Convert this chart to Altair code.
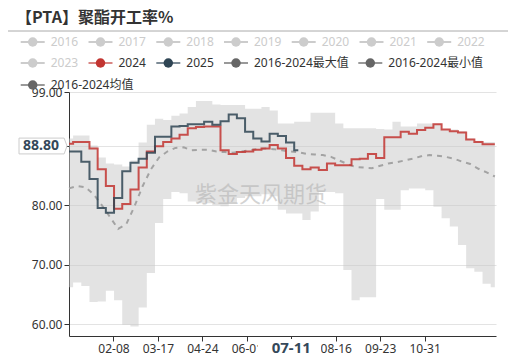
import altair as alt
import pandas as pd

# ---------------- data ----------------
week_dates = pd.date_range("2024-01-01", periods=53, freq="7D").strftime("%Y-%m-%d").tolist()

v2024 = [90.3, 90.6, 90.6, 89.5, 86.0, 83.2, 79.4, 80.2, 82.6, 86.3,
         89.0, 89.9, 90.6, 91.2, 91.8, 92.9, 93.1, 93.2, 93.2, 89.2,
         88.6, 88.9, 89.0, 89.3, 89.5, 90.1, 89.5, 87.9, 86.6, 86.0,
         86.3, 85.9, 87.0, 86.7, 86.7, 87.7, 87.8, 88.6, 87.9, 91.4,
         91.4, 92.3, 92.0, 92.6, 93.0, 93.6, 92.7, 92.4, 92.2, 91.0,
         90.6, 90.2, 90.2]

v2025 = [89.0, 89.0, 87.3, 84.4, 79.5, 78.7, 81.2, 85.7, 87.1, 87.8,
         88.8, 91.5, 91.5, 93.2, 93.3, 93.6, 93.6, 94.0, 93.5, 94.1,
         95.2, 94.6, 92.3, 91.2, 90.7, 92.0, 91.6, 90.5, 89.2]

vmax = [91.2, 91.7, 91.7, 90.0, 88.0, 87.0, 86.8, 86.5, 87.5, 90.5,
        93.5, 94.5, 94.3, 95.0, 95.4, 96.5, 97.5, 97.5, 96.9, 96.8,
        96.8, 96.8, 96.2, 96.2, 96.5, 95.9, 93.7, 93.7, 94.0, 94.0,
        95.5, 95.5, 95.5, 93.7, 92.9, 92.9, 92.9, 92.9, 92.8, 92.7,
        94.0, 93.2, 93.2, 93.7, 93.7, 93.7, 92.7, 92.7, 92.4, 91.2,
        90.8, 90.6, 90.6]

vmin = [66.2, 67.0, 66.4, 63.7, 63.8, 65.6, 64.0, 59.9, 59.6, 62.8,
        68.6, 77.0, 81.0, 82.2, 82.0, 80.6, 80.3, 80.3, 80.0, 79.8,
        80.3, 81.2, 81.5, 81.5, 81.8, 81.5, 79.2, 78.6, 78.6, 77.5,
        78.9, 82.2, 82.2, 82.0, 69.1, 64.0, 64.5, 64.5, 81.0, 79.2,
        79.2, 82.5, 82.8, 82.8, 82.5, 79.7, 77.8, 76.4, 73.3, 69.4,
        68.8, 66.8, 66.2]

vmean = [82.8, 83.2, 83.0, 81.8, 80.0, 78.0, 76.0, 76.8, 79.8, 83.2,
         86.0, 88.0, 89.0, 89.6, 89.7, 89.2, 89.3, 89.3, 89.0, 88.9,
         88.8, 89.0, 89.2, 89.4, 89.5, 89.4, 89.2, 89.0, 88.9, 88.6,
         88.5, 88.4, 88.1, 87.5, 86.9, 86.4, 86.3, 86.2, 86.6, 87.0,
         87.2, 87.5, 87.8, 88.2, 88.4, 88.3, 88.1, 87.8, 87.3, 86.9,
         86.1, 85.5, 84.8]

y_ticks = [60, 70, 80, 90, 99]
x_tick_days = [(2, 8), (3, 17), (4, 24), (6, 1), (7, 9), (8, 16), (9, 23), (10, 31)]
pointer_date = "2024-07-09"
pointer_x_label = "07-11"
pointer_y_label = "88.80"

title_text = "【PTA】聚酯开工率%"
watermark = "紫金天风期货"

leg_labels = ["2016", "2017", "2018", "2019", "2020", "2021", "2022",
              "2023", "2024", "2025", "2016-2024最大值", "2016-2024最小值",
              "2016-2024均值"]
leg_dot = ["#cccccc"] * 8 + ["#c23531", "#2f4554", "#666666", "#666666", "#666666"]
leg_line = ["#cccccc"] * 8 + ["#d98684", "#7d8b96", "#999999", "#999999", "#999999"]
leg_txt = ["#cccccc"] * 8 + ["#333333"] * 5

# ---------------- layout (pixels, relative to plot origin) ----------------
W, H = 427, 244
leg_x_page = [20.7, 88.5, 156.3, 224, 291.7, 359.5, 427.2,
              20.7, 88.5, 156.3, 224, 358.3,
              20.7]
leg_row = [0] * 7 + [1] * 5 + [2]
row_y_page = [42, 63, 85]
ORIGIN_X, ORIGIN_Y = 69, 92

FONT = "Noto Sans, Noto Sans CJK SC"

# ---------------- tables ----------------
band_df = pd.DataFrame({"date": week_dates, "max": vmax, "min": vmin, "mean": vmean})
df24 = pd.DataFrame({"date": week_dates, "v": v2024})
df25 = pd.DataFrame({"date": week_dates[:len(v2025)], "v": v2025})

legend_df = pd.DataFrame({
    "label": leg_labels,
    "dot": leg_dot,
    "line": leg_line,
    "txt": leg_txt,
})
legend_df["x0"] = [x - ORIGIN_X for x in leg_x_page]
legend_df["x1"] = legend_df["x0"] + 24
legend_df["xc"] = legend_df["x0"] + 12
legend_df["xt"] = legend_df["x0"] + 30
legend_df["y"] = [row_y_page[r] - ORIGIN_Y for r in leg_row]

one = pd.DataFrame({"a": [0]})

# ---------------- scales / axes ----------------
def utc(m, d):
    return alt.DateTime(year=2024, month=m, date=d, utc=True)

x_scale = alt.Scale(type="utc", domain=[utc(1, 1), utc(12, 31)])
y_scale = alt.Scale(domain=[58, 99], nice=False, zero=False)

x_axis = alt.Axis(values=[utc(m, d) for m, d in x_tick_days], format="%m-%d",
                  grid=False, tickSize=5, labelPadding=2, labelOverlap=False,
                  domainColor="#333333", tickColor="#333333", labelColor="#333333",
                  labelFontSize=12, labelFont=FONT, title=None)
y_axis = alt.Axis(values=y_ticks, format=".2f", grid=True, gridColor="#e3e3e3",
                  tickSize=5, labelPadding=2, domainColor="#333333",
                  tickColor="#333333", labelColor="#333333", labelFontSize=12,
                  labelFont=FONT, title=None)

X = alt.X("date:T", scale=x_scale, axis=x_axis, title=None)

band = alt.Chart(band_df).mark_area(interpolate="step", color="#c8c8c8", opacity=0.5).encode(
    x=X,
    y=alt.Y("min:Q", scale=y_scale, axis=y_axis, title=None),
    y2="max:Q",
)
mean_line = alt.Chart(band_df).mark_line(color="#a3a3a3", strokeWidth=2, strokeDash=[5, 5]).encode(
    x=X, y=alt.Y("mean:Q", scale=y_scale, axis=y_axis, title=None)
)
line24 = alt.Chart(df24).mark_line(interpolate="step", color="#c23531", opacity=0.85, strokeWidth=2).encode(
    x=X, y=alt.Y("v:Q", scale=y_scale, axis=y_axis, title=None)
)
line25 = alt.Chart(df25).mark_line(interpolate="step", color="#2f4554", opacity=0.85, strokeWidth=2).encode(
    x=X, y=alt.Y("v:Q", scale=y_scale, axis=y_axis, title=None)
)

wm = alt.Chart(one).mark_text(text=watermark, fontSize=22, color="#b0b0b0", opacity=0.55,
                               font="Noto Sans CJK SC").encode(
    x=alt.value(192), y=alt.value(103))

cover = alt.Chart(one).mark_rect(color="white").encode(
    x=alt.value(189), x2=alt.value(252), y=alt.value(247), y2=alt.value(265))
ptr_df = pd.DataFrame({"date": [pointer_date], "label": [pointer_x_label]})
ptr_x = alt.Chart(ptr_df).mark_text(fontSize=15, fontWeight="bold", color="#34485a",
                                    font=FONT, baseline="middle").encode(
    x=X, y=alt.value(256), text="label:N")

box = alt.Chart(one).mark_point(
    shape="M-1,-0.33 L0.88,-0.33 L1,0 L0.88,0.33 L-1,0.33 Z",
    size=2304, filled=True, color="white", stroke="#cccccc", strokeWidth=1, opacity=1
).encode(x=alt.value(-26), y=alt.value(54))
ptr_y = alt.Chart(pd.DataFrame({"t": [pointer_y_label]})).mark_text(
    fontSize=14, fontWeight="bold", color="#34485a", font=FONT, baseline="middle"
).encode(x=alt.value(-28), y=alt.value(54), text="t:N")

main = alt.layer(band, mean_line, line24, line25, wm, cover, ptr_x, box, ptr_y)

# legend
lx = lambda f: alt.X(f, scale=None, axis=None)
ly = alt.Y("y:Q", scale=None, axis=None)
leg_rules = alt.Chart(legend_df).mark_rule(strokeWidth=2).encode(
    x=lx("x0:Q"), x2="x1:Q", y=ly, color=alt.Color("line:N", scale=None))
leg_dots = alt.Chart(legend_df).mark_circle(size=90, opacity=1).encode(
    x=lx("xc:Q"), y=ly, color=alt.Color("dot:N", scale=None))
leg_text = alt.Chart(legend_df).mark_text(align="left", baseline="middle", fontSize=12, font=FONT).encode(
    x=lx("xt:Q"), y=ly, text="label:N", color=alt.Color("txt:N", scale=None))

title_mark = alt.Chart(one).mark_text(text=title_text, align="left", baseline="middle",
                                      fontSize=16, fontWeight="bold", color="#333333",
                                      font="Noto Sans CJK SC").encode(
    x=alt.value(-53), y=alt.value(-74.5))
title_rule = alt.Chart(one).mark_rule(color="#aaaaaa", strokeWidth=1).encode(
    x=alt.value(-61), x2=alt.value(439), y=alt.value(-61))

chart = alt.layer(main, leg_rules, leg_dots, leg_text, title_mark, title_rule).resolve_scale(
    x="independent", y="independent", color="independent"
).properties(
    width=W, height=H,
    autosize=alt.AutoSizeParams(type="none"),
    padding={"left": 61, "top": 84, "right": 27, "bottom": 22},
    background="white",
).configure_view(strokeWidth=0)

chart.save("out.html", embed_options={"renderer": "svg", "actions": False})
